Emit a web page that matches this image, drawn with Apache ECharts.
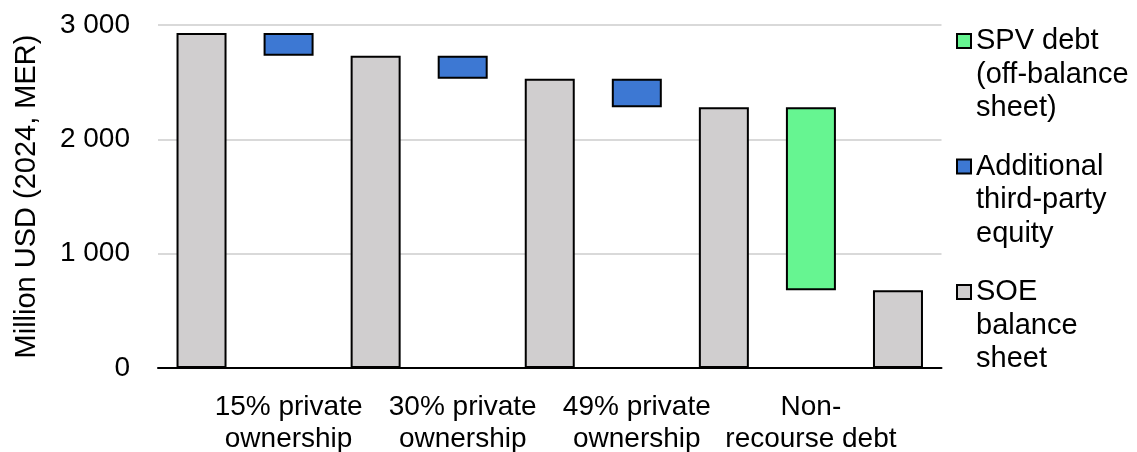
<!DOCTYPE html>
<html>
<head>
<meta charset="utf-8">
<script src="https://cdn.jsdelivr.net/npm/echarts@6/dist/echarts.min.js"></script>
<style>
  html, body { margin: 0; padding: 0; background: #fff; }
  #chart { width: 1137px; height: 452px; }
</style>
</head>
<body>
<div id="chart"></div>
<script>
// Waterfall of funding sources, million USD (2024, MER)
const categories = ['', '15% private\nownership', '', '30% private\nownership', '', '49% private\nownership', '', 'Non-\nrecourse debt', ''];
// SOE balance sheet at each stage (placed on the even slots)
const soeBalance = [2930, 2730, 2530, 2280, 680];
// Which step type sits between consecutive SOE stages
const stepKinds = ['equity', 'equity', 'equity', 'spv'];
const yTicks = [0, 1000, 2000, 3000];

const seriesNames = {
  spv: 'SPV debt\n(off-balance\nsheet)',
  equity: 'Additional\nthird-party\nequity',
  soe: 'SOE\nbalance\nsheet'
};
const legendOrder = ['spv', 'equity', 'soe'];
const colors = { spv: '#66F591', equity: '#3D78D3', soe: '#D0CECF' };

// Build stacked arrays: invisible base + floating step bars
const n = categories.length;
const baseData = new Array(n).fill('-');
const soeData = new Array(n).fill('-');
const equityData = new Array(n).fill('-');
const spvData = new Array(n).fill('-');
soeBalance.forEach((v, i) => { soeData[i * 2] = v; });
stepKinds.forEach((kind, i) => {
  const slot = i * 2 + 1;
  const hi = soeBalance[i], lo = soeBalance[i + 1];
  baseData[slot] = lo;
  (kind === 'spv' ? spvData : equityData)[slot] = hi - lo;
});

const font = 'Liberation Sans, Arial, Helvetica, sans-serif';
const barStyle = (c) => ({ color: c, borderColor: '#000', borderWidth: 2 });

// One legend block per series so the swatch lines up with the first text line
const legendLineH = 33.5;
const legendFirstLine = [41, 166.5, 292];
const legends = legendOrder.map((key, i) => ({
  orient: 'vertical',
  left: 956,
  top: legendFirstLine[i] - legendLineH * 2.5,
  padding: 0,
  itemWidth: 14,
  itemHeight: 14,
  icon: 'rect',
  selectedMode: false,
  data: [seriesNames[key]],
  formatter: (name) => '\n\n' + name,
  itemStyle: { borderColor: '#000', borderWidth: 2 },
  textStyle: { fontFamily: font, fontSize: 29, lineHeight: legendLineH, color: '#000' }
}));

const chart = echarts.init(document.getElementById('chart'), null, { renderer: 'canvas' });
chart.setOption({
  animation: false,
  backgroundColor: '#fff',
  textStyle: { fontFamily: font, color: '#000' },
  grid: { left: 158, right: 195.5, top: 25, bottom: 84, containLabel: false, outerBoundsMode: 'none' },
  legend: legends,
  xAxis: {
    type: 'category',
    data: categories,
    axisTick: { show: false },
    axisLine: { lineStyle: { color: '#000', width: 2 } },
    axisLabel: { interval: 0, fontFamily: font, fontSize: 28, lineHeight: 32, color: '#000', margin: 23 }
  },
  yAxis: {
    type: 'value',
    min: yTicks[0],
    max: yTicks[yTicks.length - 1],
    interval: yTicks[1] - yTicks[0],
    name: 'Million USD (2024, MER)',
    nameLocation: 'middle',
    nameGap: 117,
    nameTextStyle: { fontFamily: font, fontSize: 29, color: '#000' },
    axisLine: { show: false },
    axisTick: { show: false },
    axisLabel: {
      fontFamily: font, fontSize: 28, color: '#000', margin: 28,
      formatter: (v) => String(v).replace(/\B(?=(\d{3})+(?!\d))/g, ' ')
    },
    splitLine: { lineStyle: { color: '#D9D9D9', width: 2 } }
  },
  series: [
    { name: 'base', type: 'bar', stack: 'w', barWidth: 50, data: baseData, silent: true,
      itemStyle: { color: 'transparent', borderWidth: 0 } },
    { name: seriesNames.soe, type: 'bar', stack: 'w', barWidth: 50, data: soeData, itemStyle: barStyle(colors.soe) },
    { name: seriesNames.equity, type: 'bar', stack: 'w', barWidth: 50, data: equityData, itemStyle: barStyle(colors.equity) },
    { name: seriesNames.spv, type: 'bar', stack: 'w', barWidth: 50, data: spvData, itemStyle: barStyle(colors.spv) }
  ]
});
</script>
</body>
</html>
